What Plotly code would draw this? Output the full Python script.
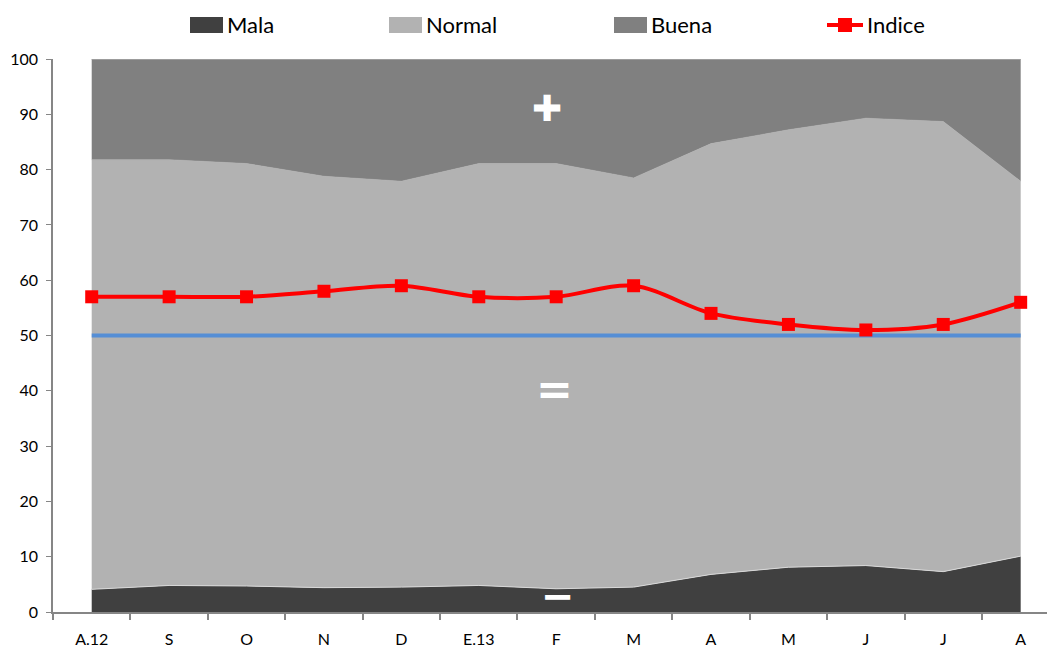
import plotly.graph_objects as go

categories = ["A.12", "S", "O", "N", "D", "E.13", "F", "M", "A", "M", "J", "J", "A"]
mala = [4.1, 4.8, 4.7, 4.4, 4.5, 4.8, 4.2, 4.5, 6.8, 8.1, 8.4, 7.3, 10.1]
normal = [77.7, 77.0, 76.4, 74.4, 73.4, 76.3, 76.9, 74.0, 77.9, 79.1, 80.9, 81.4, 67.8]
buena = [round(100 - m - n, 1) for m, n in zip(mala, normal)]
indice = [57, 57, 57, 58, 59, 57, 57, 59, 54, 52, 51, 52, 56]
referencia = [50] * len(categories)
y_ticks = [0, 10, 20, 30, 40, 50, 60, 70, 80, 90, 100]

series_names = ["Mala", "Normal", "Buena", "Indice"]
series_colors = ["#404040", "#B2B2B2", "#808080", "#FF0000"]

W, H = 1047, 648
L, R, T, B = 53, 0, 59, 36
FONT = "Lato, Carlito, Liberation Sans Narrow, Arial, sans-serif"

x = list(range(len(categories)))

fig = go.Figure()
fig.add_trace(go.Scatter(x=x, y=mala, name="Mala", stackgroup="s", mode="lines", showlegend=False,
                         line=dict(width=1, color="#D8D8D8"), fillcolor=series_colors[0]))
fig.add_trace(go.Scatter(x=x, y=normal, name="Normal", stackgroup="s", mode="lines", showlegend=False,
                         line=dict(width=0.5, color="#B2B2B2"), fillcolor=series_colors[1]))
fig.add_trace(go.Scatter(x=x, y=buena, name="Buena", stackgroup="s", mode="lines", showlegend=False,
                         line=dict(width=1.5, color="#A6A6A6"), fillcolor=series_colors[2]))
fig.add_trace(go.Scatter(x=x, y=referencia, name="50", mode="lines", showlegend=False,
                         line=dict(width=4, color="#558ED5")))
fig.add_trace(go.Scatter(x=x, y=indice, name="Indice", mode="lines+markers", showlegend=False,
                         line=dict(width=4, color=series_colors[3], shape="spline", smoothing=0.9),
                         marker=dict(symbol="square", size=13, color=series_colors[3])))

# Symbols inside the areas
for txt, xi, yi, sz in [("✚", 5.88, 91.1, 36), ("=", 5.98, 40.5, 44), ("−", 6.02, 2.9, 40)]:
    fig.add_annotation(x=xi, y=yi, text="<b>%s</b>" % txt, showarrow=False,
                       font=dict(family="DejaVu Sans", size=sz, color="white"))

# Legend drawn at the top (Excel-like)
def px(v):
    return (v - L) / (W - L - R)

def py(v):
    return (H - B - v) / (H - T - B)

leg_x = [190, 389, 614, 827]
for i, (name, col) in enumerate(zip(series_names, series_colors)):
    x0 = leg_x[i]
    if name == "Indice":
        fig.add_shape(type="line", xref="paper", yref="paper", x0=px(x0), x1=px(x0 + 36),
                      y0=py(25), y1=py(25), line=dict(color=col, width=4))
        fig.add_shape(type="rect", xref="paper", yref="paper", x0=px(x0 + 11), x1=px(x0 + 25),
                      y0=py(18), y1=py(32), fillcolor=col, line=dict(width=0))
        tx = x0 + 38
    else:
        fig.add_shape(type="rect", xref="paper", yref="paper", x0=px(x0), x1=px(x0 + 33),
                      y0=py(17), y1=py(33), fillcolor=col, line=dict(width=0))
        tx = x0 + 35
    fig.add_annotation(xref="paper", yref="paper", x=px(tx), y=py(25), text=name,
                       showarrow=False, xanchor="left", yanchor="middle",
                       font=dict(family=FONT, size=22, color="black"))

fig.update_layout(
    width=W, height=H,
    margin=dict(l=L, r=R, t=T, b=B, autoexpand=False),
    paper_bgcolor="white", plot_bgcolor="white",
    font=dict(family=FONT, size=17, color="black"),
    showlegend=False,
)
fig.update_xaxes(range=[-0.5, 12.34], tickvals=x, ticktext=categories, automargin=False,
                 ticks="outside", ticklen=12, tickcolor="rgba(0,0,0,0)",
                 showgrid=False, zeroline=False, showline=True, linecolor="#868686", linewidth=2,
                 minor=dict(tick0=0.5, dtick=1, ticks="outside", ticklen=6, tickcolor="#868686",
                            tickwidth=1.5, showgrid=False),
                 tickfont=dict(family=FONT, size=16, color="black"))
fig.update_yaxes(range=[0, 100], tickvals=y_ticks, ticks="outside", ticklen=5, automargin=False,
                 ticklabelstandoff=5,
                 tickcolor="#868686", showgrid=False, zeroline=False, showline=True,
                 linecolor="#868686", linewidth=1.5,
                 tickfont=dict(family=FONT, size=16, color="black"))

fig.write_html("out.html", config={"displayModeBar": False},
               post_script="document.body.style.margin='0';document.body.style.overflow='hidden';")
